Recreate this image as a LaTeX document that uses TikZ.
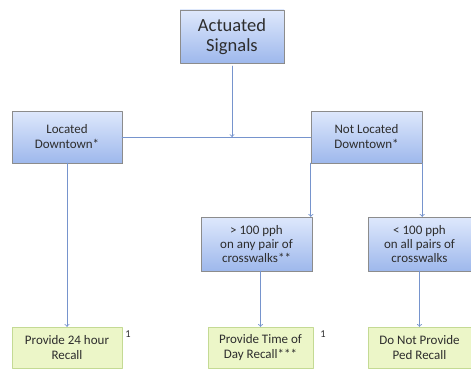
\documentclass[tikz,border=0pt]{standalone}
\usepackage{fontspec}
\setmainfont{Carlito}
\usepackage{tikz}
\usetikzlibrary{arrows}
\usetikzlibrary{shadows}
\definecolor{linecol}{RGB}{118,148,205}
\definecolor{txtcol}{RGB}{45,45,45}
\definecolor{bluetop}{RGB}{222,232,252}
\definecolor{bluebot}{RGB}{158,184,236}
\definecolor{greenfill}{RGB}{236,246,200}
\definecolor{greenline}{RGB}{196,218,148}
\begin{document}
\begin{tikzpicture}[line cap=round,line join=round,>=to,x=1pt,y=-1pt,
  bluebox/.style={rectangle,draw=black!45,top color=bluetop,bottom color=bluebot,
    drop shadow={shadow xshift=0.9pt,shadow yshift=-0.9pt,fill=black!75,opacity=1},
    text=txtcol,align=center,inner sep=0pt},
  greenbox/.style={rectangle,draw=greenline,fill=greenfill,text=txtcol,align=center,inner sep=0pt},
  conn/.style={color=linecol,line width=0.9pt}]
\useasboundingbox (0,0) rectangle (471,369);
\node[bluebox,minimum width=104,minimum height=53,font=\fontsize{18.5}{20}\selectfont] (sig) at (232,36.5) {Actuated\\Signals};
\node[bluebox,minimum width=110,minimum height=52,font=\fontsize{13}{15}\selectfont] (loc) at (67,137) {Located\\Downtown*};
\node[bluebox,minimum width=111,minimum height=52,font=\fontsize{13}{15}\selectfont] (notloc) at (366.5,137) {Not Located\\Downtown*};
\node[bluebox,minimum width=111,minimum height=54,font=\fontsize{13}{14}\selectfont] (hi) at (256.5,244) {> 100 pph\\on any pair of\\crosswalks**};
\node[bluebox,minimum width=103,minimum height=54,font=\fontsize{13}{14}\selectfont] (lo) at (419.5,244) {< 100 pph\\on all pairs of\\crosswalks};
\node[greenbox,minimum width=110,minimum height=41,font=\fontsize{13}{15}\selectfont] (rec24) at (67,347.5) {Provide 24 hour\\Recall};
\node[greenbox,minimum width=105,minimum height=41,font=\fontsize{13}{15}\selectfont] (tod) at (260.5,347.5) {Provide Time of\\Day Recall***};
\node[greenbox,minimum width=103,minimum height=41,font=\fontsize{13}{15}\selectfont] (noped) at (419.5,347.5) {Do Not Provide\\Ped Recall};
\node[text=txtcol,font=\fontsize{10.5}{12}\selectfont] (fnA) at (128,334) {1};
\node[text=txtcol,font=\fontsize{10.5}{12}\selectfont] (fnB) at (323,334) {1};
% connectors
\coordinate (mid) at (sig.south |- loc.center);
\draw[conn,->] (sig.south) ++(0,3) -- (mid);
\draw[conn] (loc.east) -- (notloc.west);
\draw[conn,->] (loc.south) -- (rec24.north);
\draw[conn,->] (notloc.south west) -- (notloc.south west |- hi.north);
\draw[conn,->] (notloc.south east) -- (notloc.south east |- lo.north);
\draw[conn,->] (tod.north |- hi.south) -- (tod.north);
\draw[conn,->] (lo.south) -- (noped.north);
\end{tikzpicture}
\end{document}
